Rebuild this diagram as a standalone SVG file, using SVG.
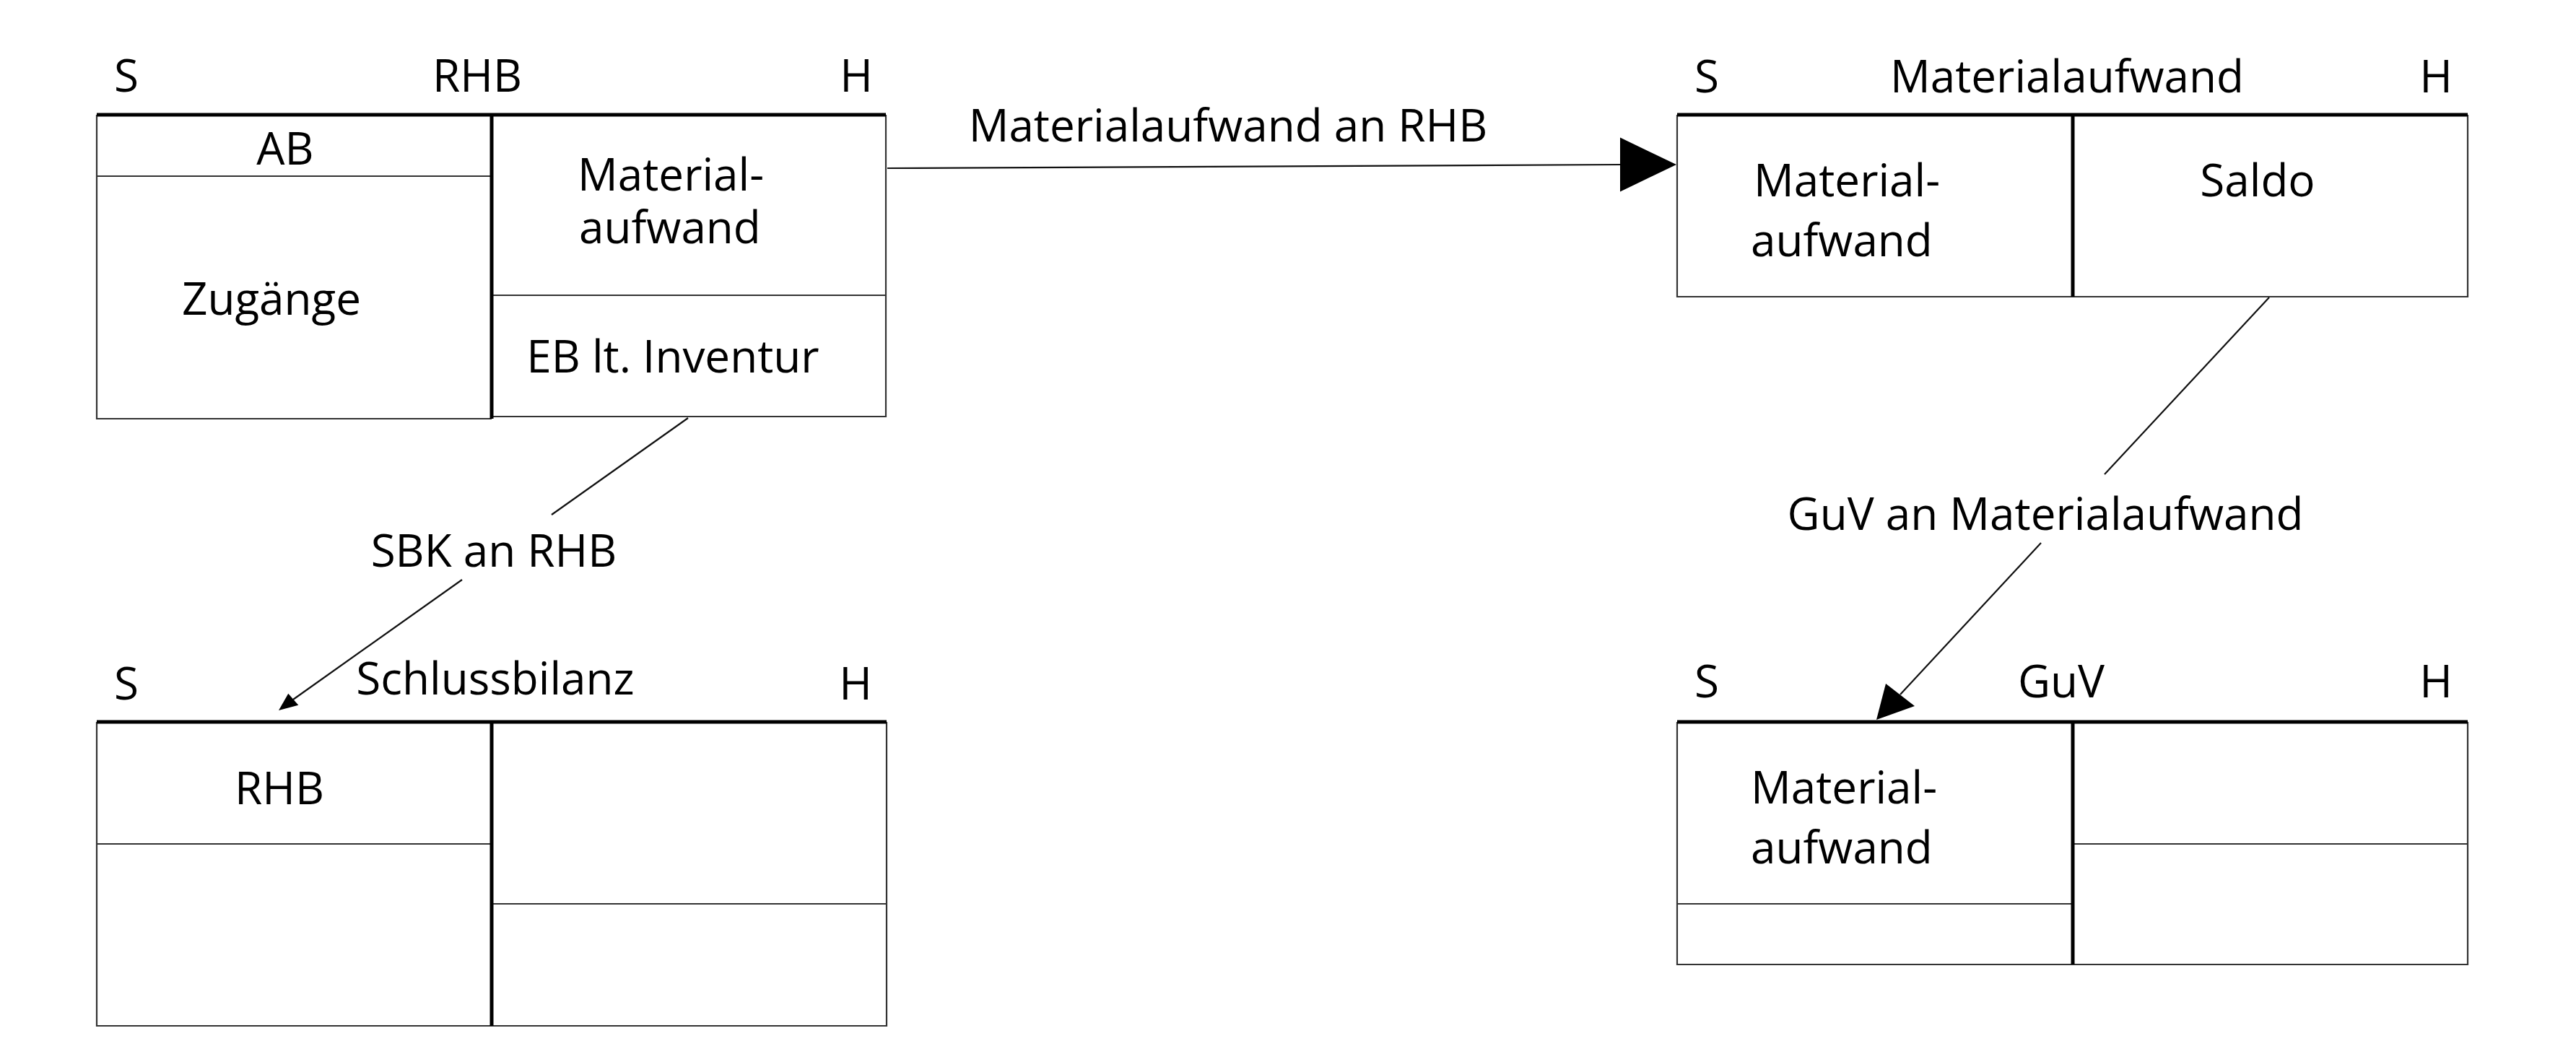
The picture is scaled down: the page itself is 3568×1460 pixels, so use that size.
<svg xmlns="http://www.w3.org/2000/svg" width="3568" height="1460" viewBox="0 0 3568 1460">
<style>
.t{font-family:"Open Sans","Noto Sans",sans-serif;font-size:62px;fill:#000}
.m{text-anchor:middle}
.thin{stroke:#333;stroke-width:2.2;fill:none}
.thick{stroke:#000;stroke-width:5;fill:none}
.con{stroke:#111;stroke-width:2.2;fill:none}
.head{fill:#000}
</style>
<rect width="3568" height="1460" fill="#fff"/>

<g id="node-rhb">
  <text class="t m" x="175" y="127">S</text>
  <text class="t m" x="661" y="127">RHB</text>
  <text class="t m" x="1186" y="127">H</text>
  <path class="thin" d="M134,159 V580 H681 M681,577 H1227 V159 M134,244 H681 M681,409 H1227"/>
  <path class="thick" d="M134,159 H1227 M681,159 V580"/>
  <text class="t m" x="395" y="228">AB</text>
  <text class="t m" x="376" y="436">Zugänge</text>
  <text class="t" x="800" y="264">Material-</text>
  <text class="t" x="802" y="337">aufwand</text>
  <text class="t m" x="932" y="516">EB lt. Inventur</text>
</g>

<g id="node-materialaufwand">
  <text class="t m" x="2364" y="128">S</text>
  <text class="t m" x="2863" y="128">Materialaufwand</text>
  <text class="t m" x="3374" y="128">H</text>
  <path class="thin" d="M2323,159 V411 H3418 V159"/>
  <path class="thick" d="M2323,159 H3418 M2871,159 V411"/>
  <text class="t" x="2429" y="272">Material-</text>
  <text class="t" x="2425" y="355">aufwand</text>
  <text class="t m" x="3127" y="272">Saldo</text>
</g>

<g id="node-schlussbilanz">
  <text class="t m" x="175" y="969">S</text>
  <text class="t m" x="686" y="962">Schlussbilanz</text>
  <text class="t m" x="1185" y="969">H</text>
  <path class="thin" d="M134,1000 V1421 H1228 V1000 M134,1169 H681 M681,1252 H1228"/>
  <path class="thick" d="M134,1000 H1228 M681,1000 V1421"/>
  <text class="t m" x="387" y="1114">RHB</text>
</g>

<g id="node-guv">
  <text class="t m" x="2364" y="966">S</text>
  <text class="t m" x="2855" y="966">GuV</text>
  <text class="t m" x="3374" y="966">H</text>
  <path class="thin" d="M2323,1000 V1336 H3418 V1000 M2323,1252 H2871 M2871,1169 H3418"/>
  <path class="thick" d="M2323,1000 H3418 M2871,1000 V1336"/>
  <text class="t" x="2425" y="1113">Material-</text>
  <text class="t" x="2425" y="1196">aufwand</text>
</g>

<g id="connectors">
  <g id="edge-materialaufwand-an-rhb">
    <path class="con" d="M1229,233 L2246,228"/>
    <polygon class="head" points="2322,228 2244,190.5 2244,265.5"/>
    <text class="t m" x="1701" y="196">Materialaufwand an RHB</text>
  </g>
  <g id="edge-sbk-an-rhb">
    <path class="con" d="M953,579 L764,713 M640,803 L406,969"/>
    <polygon class="head" points="386,984 399.3,960.7 413.3,976.7"/>
    <text class="t m" x="684" y="785">SBK an RHB</text>
  </g>
  <g id="edge-guv-an-materialaufwand">
    <path class="con" d="M3143,412 L2915,657 M2827,752 L2632,962"/>
    <polygon class="head" points="2599,997 2612,947 2652,978"/>
    <text class="t m" x="2833" y="734">GuV an Materialaufwand</text>
  </g>
</g>
</svg>
